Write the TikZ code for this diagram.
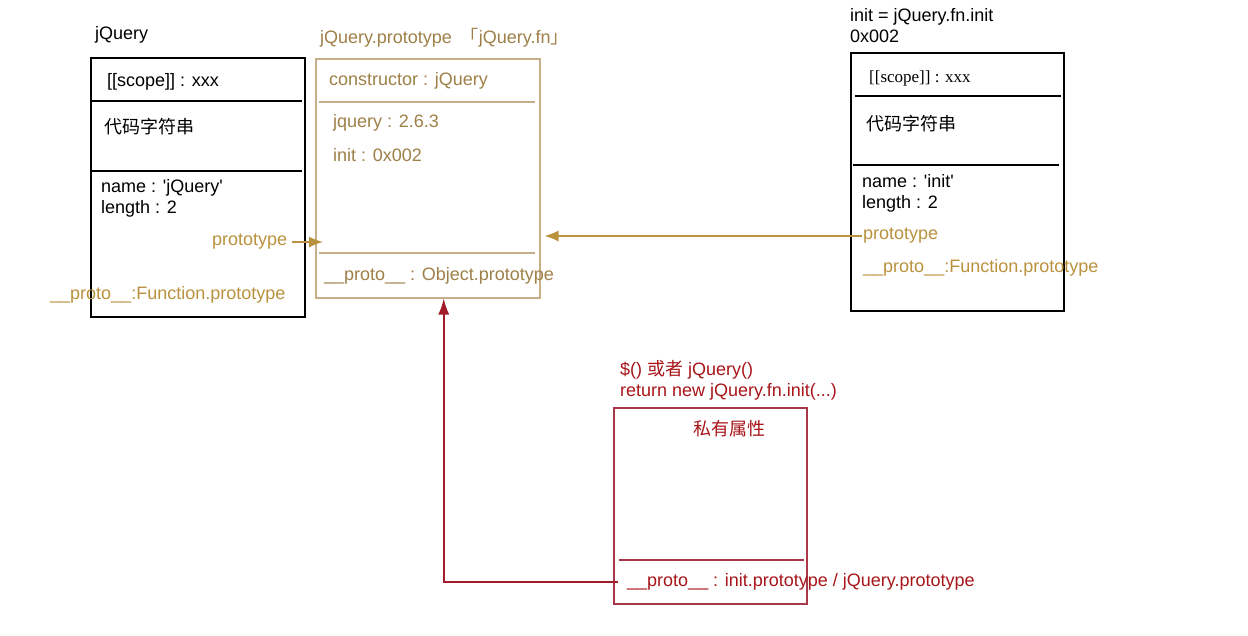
\documentclass[tikz,border=0pt]{standalone}
\usepackage{fontspec}
\setmainfont{Liberation Sans}
\newfontfamily\cjk{Noto Sans CJK SC}
\newfontfamily\serifF{Liberation Serif}
\usetikzlibrary{arrows.meta}
\definecolor{gold}{RGB}{186,146,62}
\definecolor{tan}{RGB}{198,174,136}
\definecolor{olive}{RGB}{158,128,72}
\definecolor{dred}{RGB}{160,28,40}
\definecolor{bred}{RGB}{168,56,74}
\definecolor{tred}{RGB}{168,22,26}
\newcommand{\sq}{\textquotesingle}
\tikzset{
  txt/.style={inner sep=0pt, anchor=west, font=\fontsize{18}{21}\selectfont, align=left},
  objbox/.style={draw, line width=1.5pt, inner sep=0pt, anchor=north west},
  divider/.style={line width=1.2pt},
  goldarrow/.style={draw=gold, line width=1.5pt, -{Latex[length=14pt,width=11pt]}},
  redarrow/.style={draw=dred, line width=1.6pt, -{Latex[length=16pt,width=11pt]}}
}
\begin{document}
\begin{tikzpicture}[x=1pt,y=-1pt]
\useasboundingbox (0,0) rectangle (1248,635);
\fill[white] (0,0) rectangle (1248,635);

% ---------- Box 1: jQuery ----------
\node[objbox, draw=black, minimum width=214pt, minimum height=259pt] (b1) at (90,57) {};
\node[txt] (t1) at (95,35) {jQuery};
\draw[divider, black] (90,101) -- (302,101);
\draw[divider, black] (90,171) -- (302,171);
\node[txt] (s1) at (107,82) {[[scope]] : xxx};
\node[txt] (c1) at (104,127) {\cjk 代码字符串};
\node[txt] (n1) at (101,198.5) {name : \sq jQuery\sq\\length : 2};
\node[txt, text=gold] (p1) at (212,242) {prototype};
\node[txt, text=gold] (f1) at (50,295) {\_\_proto\_\_:Function.prototype};

% ---------- Box 2: jQuery.prototype ----------
\node[objbox, draw=tan, minimum width=224pt, minimum height=239pt] (b2) at (315,58) {};
\node[txt, text=olive] (t2) at (320,38) {jQuery.prototype {\cjk\ 「}jQuery.fn{\cjk 」}};
\draw[divider, draw=tan] (319,102) -- (535,102);
\draw[divider, draw=tan] (319,253) -- (535,253);
\node[txt, text=olive] (k2) at (329,81) {constructor : jQuery};
\node[txt, text=olive] (j2) at (333,123) {jquery : 2.6.3};
\node[txt, text=olive] (i2) at (333,155) {init : 0x002};
\node[txt, text=olive] (o2) at (324,276) {\_\_proto\_\_ : Object.prototype};

% ---------- Box 3: init ----------
\node[objbox, draw=black, minimum width=213pt, minimum height=258pt] (b3) at (850,52) {};
\node[txt] (t3) at (850,25.5) {init = jQuery.fn.init\\0x002};
\draw[divider, black] (855,96) -- (1061,96);
\draw[divider, black] (853,165) -- (1059,165);
\node[txt, font=\serifF\fontsize{17}{20}\selectfont] (s3) at (869,78) {[[scope]] : xxx};
\node[txt] (c3) at (866,124) {\cjk 代码字符串};
\node[txt] (n3) at (862,193.5) {name : \sq init\sq\\length : 2};
\node[txt, text=gold] (p3) at (863,236) {prototype};
\node[txt, text=gold] (f3) at (863,268) {\_\_proto\_\_:Function.prototype};

% ---------- Box 4: instance ----------
\node[objbox, draw=bred, minimum width=193pt, minimum height=196pt] (b4) at (613,407) {};
\node[txt, text=tred] (t4) at (620,380) {\$() {\cjk 或者} jQuery()\\return new jQuery.fn.init(...)};
\node[txt, text=tred] (h4) at (693,429) {\cjk 私有属性};
\draw[line width=1.2pt, draw=bred] (619,560) -- (804,560);
\node[txt, text=tred] (o4) at (627,582) {\_\_proto\_\_ : init.prototype / jQuery.prototype};

% ---------- connectors ----------
\draw[goldarrow] ([xshift=5pt]p1.east) -- ([xshift=8pt]b2.west |- p1);
\draw[goldarrow] ([xshift=-1pt]p3.west) -- ([xshift=4pt]b2.east |- p3);
\draw[redarrow] ([xshift=-9pt]o4.west) -| ([xshift=16pt]b2.south);
\end{tikzpicture}
\end{document}
